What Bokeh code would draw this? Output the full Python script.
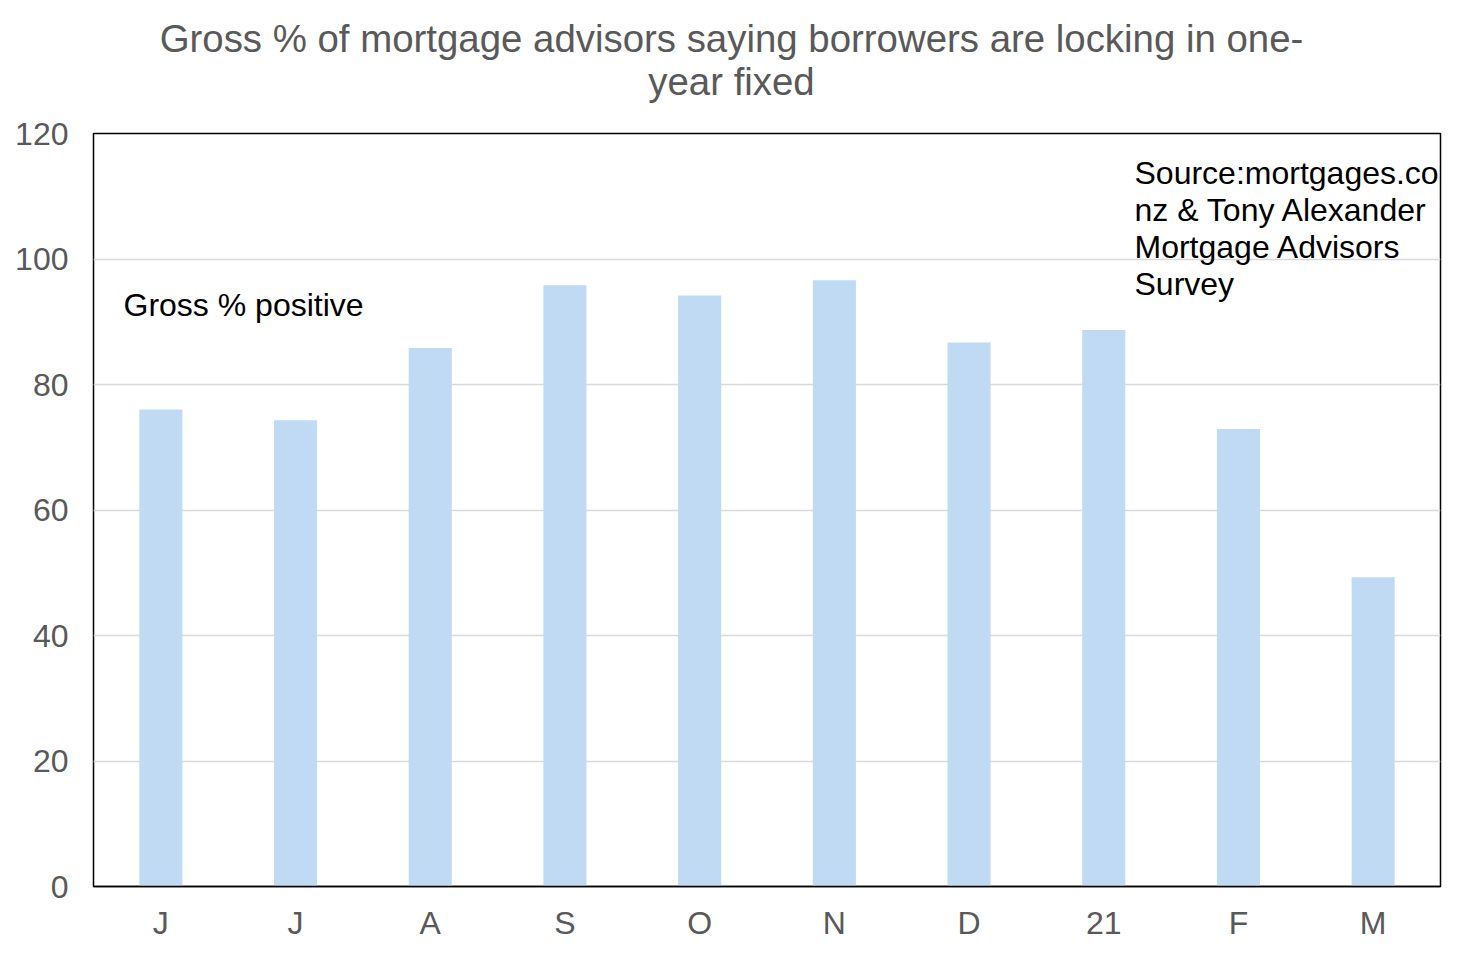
from bokeh.plotting import figure
from bokeh.layouts import column
from bokeh.models import FixedTicker, Label, Range1d
from bokeh.embed import file_html
from bokeh.resources import INLINE

months = ["J", "J", "A", "S", "O", "N", "D", "21", "F", "M"]
gross_positive = [76.0, 74.3, 85.8, 95.8, 94.2, 96.6, 86.7, 88.7, 72.9, 49.3]
y_ticks = [0, 20, 40, 60, 80, 100, 120]
title_lines = ["Gross % of mortgage advisors saying borrowers are locking in one-", "year fixed"]
source_lines = ["Source:mortgages.co.", "nz & Tony Alexander", "Mortgage Advisors", "Survey"]

FONT = "Liberation Sans"
GRAY = "#595959"
W = 1455

xs = list(range(len(months)))

# ---- title strip ----
t = figure(width=W, height=113, output_backend="svg", toolbar_location=None,
           x_axis_type=None, y_axis_type=None, x_range=Range1d(0, W), y_range=Range1d(0, 113),
           min_border=0)
t.outline_line_color = None
t.xgrid.grid_line_color = None
t.ygrid.grid_line_color = None
for i, line in enumerate(title_lines):
    t.add_layout(Label(x=638, y=75 - i * 43, x_units="screen", y_units="screen", text=line,
                       text_font=FONT, text_font_size="38.4px", text_color=GRAY,
                       text_align="center", text_baseline="middle"))

# ---- main chart ----
p = figure(width=W, height=835, output_backend="svg", toolbar_location=None,
           x_range=Range1d(-0.5, len(months) - 0.5), y_range=Range1d(0, 120),
           min_border_left=93, min_border_right=15, min_border_bottom=62, min_border_top=20)

p.vbar(x=xs, top=gross_positive, width=0.32, fill_color="#C0DAF3", line_color=None)

p.outline_line_color = "black"
p.outline_line_width = 1.5
p.outline_line_alpha = 1

p.xgrid.grid_line_color = None
p.ygrid.grid_line_color = "#D9D9D9"
p.ygrid.grid_line_width = 1.3
p.ygrid.ticker = FixedTicker(ticks=y_ticks)

p.yaxis.ticker = FixedTicker(ticks=y_ticks)
p.yaxis.axis_line_color = None
p.yaxis.major_tick_line_color = None
p.yaxis.minor_tick_line_color = None
p.yaxis.major_label_text_font = FONT
p.yaxis.major_label_text_font_size = "32px"
p.yaxis.major_label_text_color = GRAY
p.yaxis.major_label_standoff = 19

p.xaxis.ticker = FixedTicker(ticks=xs)
p.xaxis.major_label_overrides = {i: m for i, m in enumerate(months)}
p.xaxis.axis_line_color = "black"
p.xaxis.axis_line_width = 1.5
p.xaxis.major_tick_line_color = None
p.xaxis.minor_tick_line_color = None
p.xaxis.major_label_text_font = FONT
p.xaxis.major_label_text_font_size = "32px"
p.xaxis.major_label_text_color = GRAY
p.xaxis.major_label_standoff = 12

p.add_layout(Label(x=30, y=582, x_units="screen", y_units="screen", text="Gross % positive",
                   text_font=FONT, text_font_size="32px", text_color="black", text_baseline="middle"))

for i, line in enumerate(source_lines):
    p.add_layout(Label(x=1041, y=714 - i * 37, x_units="screen", y_units="screen", text=line,
                       text_font=FONT, text_font_size="32px", text_color="black", text_baseline="middle"))

layout = column(t, p, spacing=0)
open("out.html", "w").write(file_html(layout, INLINE))
